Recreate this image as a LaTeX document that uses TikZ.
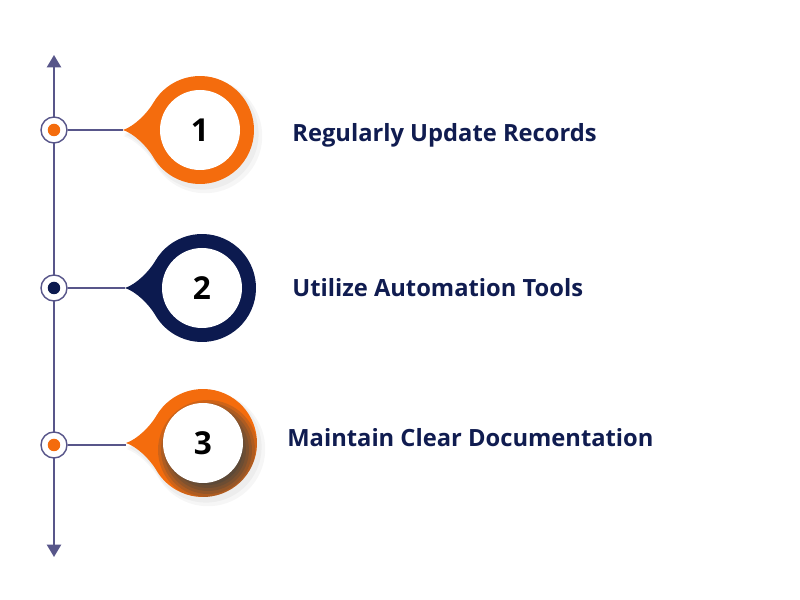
\documentclass[tikz,border=0pt]{standalone}
\usepackage{fontspec}
\setmainfont{Open Sans}
\usepackage{tikz}
\usepackage{xcolor}
\usetikzlibrary{positioning,arrows.meta}
\definecolor{droporange}{HTML}{F46C0D}
\definecolor{dropnavy}{HTML}{0C1A4F}
\definecolor{axisgray}{HTML}{58568A}
\definecolor{textnavy}{HTML}{101C50}
\definecolor{shadeteal}{HTML}{163A50}
\def\droppath{(-7.7,0) .. controls (-6.6,0.35) and (-5.28,1.66) .. (150:5.4) arc (150:-150:5.4) .. controls (-5.28,-1.66) and (-6.6,-0.35) .. cycle}

\begin{document}
\begin{tikzpicture}[scale=0.2]
\tikzstyle{every node}+=[inner sep=0pt]
\tikzstyle{timeline}=[axisgray, line width=1.1pt]
\tikzstyle{ring}=[circle, draw=axisgray, line width=0.8pt, fill=white, minimum size=0.52cm]
\tikzstyle{dot}=[circle, minimum size=0.25cm]
\tikzstyle{hole}=[circle, fill=white, minimum size=1.6cm, font=\fontsize{18}{20}\selectfont\bfseries, text=black]
\tikzstyle{steptext}=[anchor=base west, font=\fontsize{13.5}{16}\selectfont\bfseries, text=textnavy]
\useasboundingbox (0,0) rectangle (80,-60);
% timeline
\coordinate (top) at (5.4,-5.5);
\coordinate (bottom) at (5.4,-55.7);
\draw [timeline, {Triangle[width=8pt,length=7pt]}-{Triangle[width=8pt,length=7pt]}] (top) -- (bottom);
\node [ring] (m1) at (5.4,-13) {};
\node [dot, fill=droporange] (d1) at (m1) {};
\node [ring] (m2) at (5.4,-28.8) {};
\node [dot, fill=dropnavy] (d2) at (m2) {};
\node [ring] (m3) at (5.4,-44.5) {};
\node [dot, fill=droporange] (d3) at (m3) {};
\coordinate (t1) at (12.3,-13);
\coordinate (t2) at (12.5,-28.8);
\coordinate (t3) at (12.6,-44.5);
\draw [timeline, line width=0.9pt] (m1) -- (t1);
\draw [timeline, line width=0.9pt] (m2) -- (t2);
\draw [timeline, line width=0.9pt] (m3) -- (t3);
% step 1
\fill [black, opacity=0.035, shift={(20.3,-13.4)}, scale=1.03] \droppath;
\fill [black, opacity=0.035, shift={(20.5,-13.6)}, scale=1.06] \droppath;
\fill [droporange, shift={(20,-13)}] \droppath;
\node [hole] (n1) at (20,-13) {1};
\node [steptext] (s1) at (29.2,-14.2) {Regularly Update Records};
% step 2
\fill [dropnavy, shift={(20.2,-28.8)}] \droppath;
\node [hole] (n2) at (20.2,-28.8) {2};
\node [steptext] (s2) at (29.2,-29.7) {Utilize Automation Tools};
% step 3
\fill [black, opacity=0.035, shift={(20.6,-44.7)}, scale=1.03] \droppath;
\fill [black, opacity=0.035, shift={(20.8,-44.9)}, scale=1.06] \droppath;
\fill [droporange, shift={(20.3,-44.3)}] \droppath;
\begin{scope}
\clip [shift={(20.3,-44.3)}] \droppath;
\fill [shadeteal, opacity=0.17] (20.8,-45.0) circle (5.0);
\fill [shadeteal, opacity=0.17] (20.8,-45.0) circle (4.7);
\fill [shadeteal, opacity=0.17] (20.8,-45.0) circle (4.4);
\fill [shadeteal, opacity=0.17] (20.8,-45.0) circle (4.1);
\fill [shadeteal, opacity=0.17] (20.8,-45.0) circle (3.8);
\fill [shadeteal, opacity=0.17] (20.8,-45.0) circle (3.5);
\end{scope}
\node [hole] (n3) at (20.3,-44.3) {3};
\node [steptext] (s3) at (28.7,-44.7) {Maintain Clear Documentation};
\end{tikzpicture}
\end{document}
